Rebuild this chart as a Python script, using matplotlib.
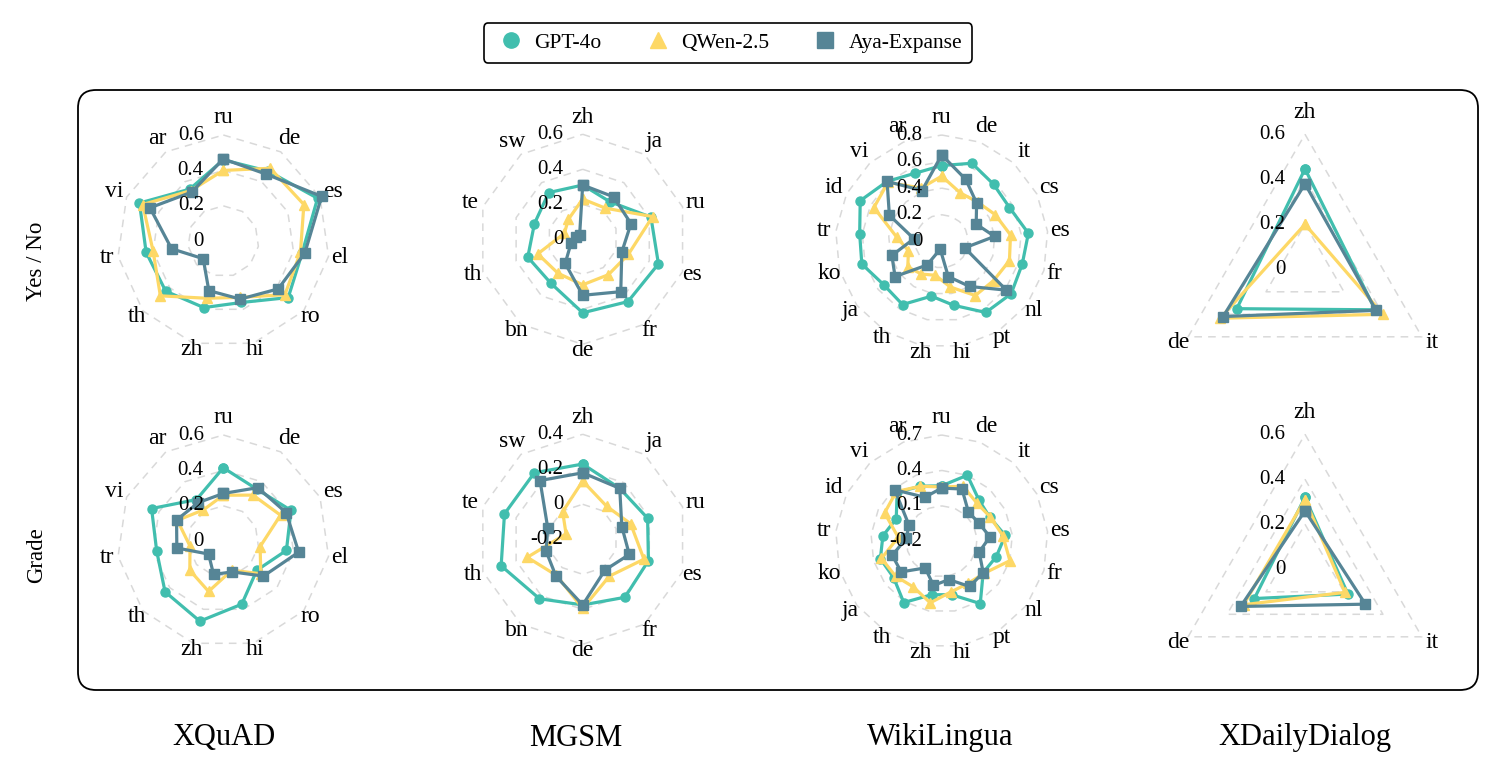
import numpy as np
import matplotlib
matplotlib.use('Agg')
import matplotlib.pyplot as plt
from matplotlib.patches import FancyBboxPatch
from matplotlib.lines import Line2D

plt.rcParams['font.family'] = ['Liberation Serif', 'DejaVu Serif']

W, H = 1495, 777

models = ['GPT-4o', 'QWen-2.5', 'Aya-Expanse']
colors = ['#41BEAE', '#FDD866', '#568596']
markers = ['o', '^', 's']

datasets = ['XQuAD', 'MGSM', 'WikiLingua', 'XDailyDialog']
rows = ['Yes / No', 'Grade']

# ---------------- XQuAD ----------------
xquad_cats = ['ru', 'de', 'es', 'el', 'ro', 'hi', 'zh', 'th', 'tr', 'vi', 'ar']
xquad_yn_gpt = [0.46, 0.47, 0.585, 0.45, 0.485, 0.36, 0.39, 0.43, 0.44, 0.52, 0.35]
xquad_yn_qwen = [0.40, 0.49, 0.50, 0.44, 0.46, 0.33, 0.335, 0.47, 0.40, 0.50, 0.34]
xquad_yn_aya = [0.465, 0.45, 0.61, 0.465, 0.41, 0.34, 0.29, 0.15, 0.295, 0.455, 0.33]
xquad_gr_gpt = [0.415, 0.35, 0.42, 0.36, 0.25, 0.37, 0.47, 0.435, 0.38, 0.445, 0.28]
xquad_gr_qwen = [0.26, 0.31, 0.355, 0.21, 0.28, 0.17, 0.295, 0.25, 0.19, 0.285, 0.21]
xquad_gr_aya = [0.27, 0.36, 0.39, 0.43, 0.30, 0.18, 0.195, 0.11, 0.265, 0.29, 0.26]
xquad_yn_ticks = [0, 0.2, 0.4, 0.6]
xquad_gr_ticks = [0, 0.2, 0.4, 0.6]

# ---------------- MGSM ----------------
mgsm_cats = ['zh', 'ja', 'ru', 'es', 'fr', 'de', 'bn', 'th', 'te', 'sw']
mgsm_yn_gpt = [0.31, 0.265, 0.41, 0.455, 0.44, 0.42, 0.31, 0.33, 0.29, 0.33]
mgsm_yn_qwen = [0.23, 0.22, 0.42, 0.275, 0.25, 0.26, 0.24, 0.27, 0.11, 0.14]
mgsm_yn_aya = [0.31, 0.30, 0.29, 0.235, 0.37, 0.32, 0.17, 0.07, 0.04, 0.03]
mgsm_gr_gpt = [0.23, 0.16, 0.19, 0.195, 0.21, 0.175, 0.22, 0.29, 0.27, 0.27]
mgsm_gr_qwen = [0.133, 0.033, 0.088, 0.168, 0.06, 0.195, 0.055, 0.133, -0.10, -0.005]
mgsm_gr_aya = [0.18, 0.16, 0.035, 0.08, 0.017, 0.175, 0.06, 0.02, 0.01, 0.215]
mgsm_yn_ticks = [0, 0.2, 0.4, 0.6]
mgsm_gr_ticks = [-0.2, 0, 0.2, 0.4]

# ---------------- WikiLingua ----------------
wiki_cats = ['ru', 'de', 'it', 'cs', 'es', 'fr', 'nl', 'pt', 'hi', 'zh',
             'th', 'ja', 'ko', 'tr', 'id', 'vi', 'ar']
wiki_yn_gpt = [0.57, 0.63, 0.58, 0.57, 0.655, 0.63, 0.655, 0.63, 0.49, 0.42,
               0.56, 0.545, 0.625, 0.62, 0.685, 0.61, 0.55]
wiki_yn_qwen = [0.49, 0.39, 0.40, 0.45, 0.52, 0.53, 0.49, 0.48, 0.35, 0.26,
                0.29, 0.32, 0.26, 0.34, 0.57, 0.60, 0.43]
wiki_yn_aya = [0.65, 0.50, 0.39, 0.29, 0.40, 0.18, 0.61, 0.40, 0.27, 0.06,
               0.21, 0.44, 0.39, 0.21, 0.44, 0.61, 0.41]
wiki_gr_gpt = [0.27, 0.40, 0.27, 0.255, 0.34, 0.28, 0.24, 0.42, 0.26, 0.26,
               0.41, 0.31, 0.34, 0.30, 0.23, 0.36, 0.30]
wiki_gr_qwen = [0.26, 0.30, 0.24, 0.26, 0.32, 0.40, 0.25, 0.22, 0.235, 0.33,
                0.255, 0.29, 0.33, 0.17, 0.34, 0.37, 0.30]
wiki_gr_aya = [0.25, 0.275, 0.136, 0.15, 0.21, 0.13, 0.24, 0.25, 0.13, 0.18,
               0.065, 0.23, 0.235, 0.10, 0.11, 0.39, 0.20]
wiki_yn_ticks = [0, 0.2, 0.4, 0.6, 0.8]
wiki_gr_ticks = [-0.2, 0.1, 0.4, 0.7]

# ---------------- XDailyDialog ----------------
xdd_cats = ['zh', 'it', 'de']
xdd_yn_gpt = [0.446, 0.36, 0.35]
xdd_yn_qwen = [0.20, 0.40, 0.435]
xdd_yn_aya = [0.38, 0.365, 0.42]
xdd_gr_gpt = [0.32, 0.22, 0.26]
xdd_gr_qwen = [0.31, 0.205, 0.315]
xdd_gr_aya = [0.26, 0.31, 0.33]
xdd_yn_ticks = [0, 0.2, 0.4, 0.6]
xdd_gr_ticks = [0, 0.2, 0.4, 0.6]

charts = [
    (xquad_cats, [xquad_yn_gpt, xquad_yn_qwen, xquad_yn_aya], xquad_yn_ticks, (223.3, 241.3), 106.3),
    (mgsm_cats, [mgsm_yn_gpt, mgsm_yn_qwen, mgsm_yn_aya], mgsm_yn_ticks, (582.7, 239.3), 105.0),
    (wiki_cats, [wiki_yn_gpt, wiki_yn_qwen, wiki_yn_aya], wiki_yn_ticks, (941.7, 241.3), 106.3),
    (xdd_cats, [xdd_yn_gpt, xdd_yn_qwen, xdd_yn_aya], xdd_yn_ticks, (1305.0, 269.3), 135.0),
    (xquad_cats, [xquad_gr_gpt, xquad_gr_qwen, xquad_gr_aya], xquad_gr_ticks, (223.3, 541.3), 106.3),
    (mgsm_cats, [mgsm_gr_gpt, mgsm_gr_qwen, mgsm_gr_aya], mgsm_gr_ticks, (582.7, 539.3), 105.0),
    (wiki_cats, [wiki_gr_gpt, wiki_gr_qwen, wiki_gr_aya], wiki_gr_ticks, (941.7, 541.3), 106.3),
    (xdd_cats, [xdd_gr_gpt, xdd_gr_qwen, xdd_gr_aya], xdd_gr_ticks, (1305.0, 569.3), 135.0),
]

fig = plt.figure(figsize=(W / 100, H / 100), dpi=100)

# rounded frame around all panels
box = FancyBboxPatch((0.78, (H - 690) / 100), 14.0, 6.0,
                     boxstyle='round,pad=0,rounding_size=0.18',
                     transform=fig.dpi_scale_trans, facecolor='none',
                     edgecolor='black', linewidth=1.3)
fig.patches.append(box)


def tick_label(t):
    return f'{t:g}'


for cats, vals, ticks, (cx, cy), R in charts:
    rect = [(cx - R) / W, (H - cy - R) / H, 2 * R / W, 2 * R / H]
    ax = fig.add_axes(rect, projection='polar')
    ax.set_theta_zero_location('N')
    ax.set_theta_direction(-1)
    rmin, rmax = ticks[0], ticks[-1]
    ax.set_ylim(rmin, rmax)
    ax.set_xticks([])
    ax.set_yticks([])
    ax.grid(False)
    ax.spines['polar'].set_visible(False)
    ax.patch.set_alpha(0)
    n = len(cats)
    theta = np.arange(n) * 2 * np.pi / n
    tc = np.append(theta, theta[0])
    for t in ticks[1:]:
        ax.plot(tc, [t] * (n + 1), ls=(0, (5, 4)), color='#d9d9d9', lw=1.1,
                zorder=1, clip_on=False)
    for i in range(3):
        v = vals[i]
        ax.plot(tc, np.append(v, v[0]), color=colors[i], marker=markers[i],
                ms=6.5, lw=2.3, zorder=3 + i, clip_on=False)
    for t in ticks:
        frac = 0.5 + 0.5 * (t - rmin) / (rmax - rmin)
        ax.annotate(tick_label(t), xy=(0.5, frac), xycoords='axes fraction',
                    xytext=(-14, 0), textcoords='offset points',
                    ha='right', va='center', fontsize=15, zorder=10)
    for j, c in enumerate(cats):
        f = 1.11 + 0.05 * np.cos(theta[j])
        ax.text(theta[j], rmin + f * (rmax - rmin), c, ha='center',
                va='center', fontsize=17)

# row labels
fig.text(37 / W, 1 - 261 / H, rows[0], rotation=90, ha='center', va='center', fontsize=16.5)
fig.text(37 / W, 1 - 555 / H, rows[1], rotation=90, ha='center', va='center', fontsize=16.5)

# column titles
for name, x in zip(datasets, [224, 576, 940, 1305]):
    fig.text(x / W, 1 - 738 / H, name, ha='center', va='center', fontsize=22)

handles = [Line2D([], [], ls='none', marker=markers[i], color=colors[i], ms=11)
           for i in range(3)]
leg = fig.legend(handles, models, loc='center', bbox_to_anchor=(728 / W, 1 - 43 / H),
                 ncol=3, frameon=True, fancybox=True, fontsize=15.5,
                 handlelength=1.6, handletextpad=0.3, columnspacing=1.8,
                 borderpad=0.45, framealpha=1, edgecolor='black')
leg.get_frame().set_linewidth(1.2)

fig.savefig('out.png', dpi=100)
